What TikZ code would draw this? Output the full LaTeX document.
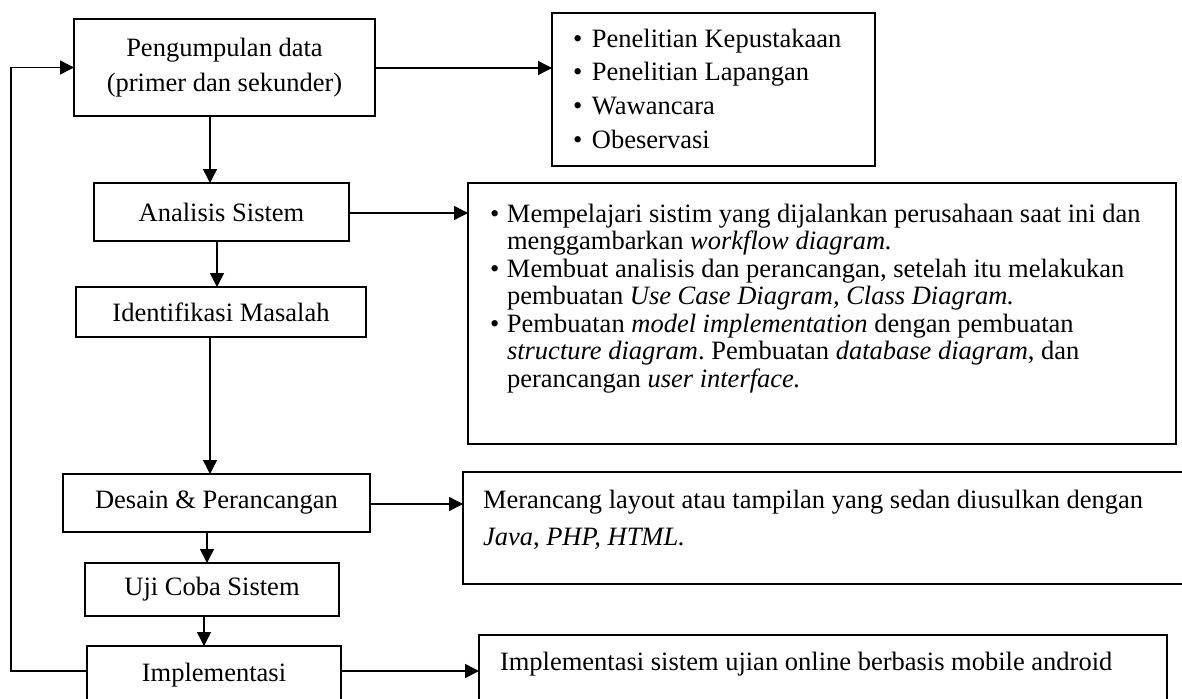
\documentclass[tikz,border=0pt]{standalone}
\usepackage{fontspec}
\setmainfont{Liberation Serif}
\usetikzlibrary{arrows.meta}
\newcommand{\blt}[1]{\makebox[#1][l]{\textbullet}}
\frenchspacing
\begin{document}
\begin{tikzpicture}[x=1pt,y=-1pt,
  every node/.style={inner sep=0pt, outer sep=0pt},
  fbox/.style={draw, line width=1.5pt, font=\fontsize{26.5}{35}\selectfont, align=center},
  tbox/.style={draw, line width=1.5pt},
  txt/.style={anchor=base west, font=\fontsize{26.5}{30}\selectfont},
  arr/.style={line width=1.5pt, -{Triangle[length=14pt,width=14pt]}},
  ln/.style={line width=1.5pt}]
\useasboundingbox (0,0) rectangle (1182,698);
\clip (0,0) rectangle (1182,698);
\fill[white] (0,0) rectangle (1182,698);

% left flow boxes
\node[fbox, minimum width=301pt, minimum height=97pt] (pd) at (224.5,67.5) {Pengumpulan data\\(primer dan sekunder)};
\node[fbox, minimum width=255pt, minimum height=58pt] (as) at (221.5,212) {Analisis Sistem};
\node[fbox, minimum width=290pt, minimum height=50pt] (im) at (221,312) {Identifikasi Masalah};
\node[fbox, minimum width=307pt, minimum height=58pt] (dp) at (216.5,503) {Desain \& Perancangan};
\node[fbox, minimum width=254pt, minimum height=53pt] (uc) at (212,589.5) {Uji Coba Sistem};
\node[fbox, minimum width=254pt, minimum height=58pt] (ip) at (214,675) {Implementasi};

% right description boxes
\node[tbox, minimum width=323pt, minimum height=153pt] (pl) at (713.5,89.5) {};
\node[tbox, minimum width=708pt, minimum height=261pt] (mb) at (822,313.5) {};
\node[tbox, minimum width=740pt, minimum height=112pt] (db) at (833,528) {};
\node[tbox, minimum width=688pt, minimum height=75pt] (ib) at (823,672.5) {};

% texts of right boxes
\node[txt] (p1) at (573,48) {\blt{19pt}Penelitian Kepustakaan};
\node[txt] (p2) at (573,81) {\blt{19pt}Penelitian Lapangan};
\node[txt] (p3) at (573,114.5) {\blt{19pt}Wawancara};
\node[txt] (p4) at (573,148.5) {\blt{19pt}Obeservasi};

\node[txt] (m1) at (490,222) {\blt{17pt}Mempelajari sistim yang dijalankan perusahaan saat ini dan};
\node[txt] (m2) at (507,249.5) {menggambarkan \textit{workflow diagram.}};
\node[txt] (m3) at (490,277) {\blt{17pt}Membuat analisis dan perancangan, setelah itu melakukan};
\node[txt] (m4) at (507,304.5) {pembuatan \textit{Use Case Diagram, Class Diagram.}};
\node[txt] (m5) at (490,332) {\blt{17pt}Pembuatan \textit{model implementation} dengan pembuatan};
\node[txt] (m6) at (507,359.5) {\textit{structure diagram}. Pembuatan \textit{database diagram}, dan};
\node[txt] (m7) at (507,387) {perancangan \textit{user interface.}};

\node[txt] (d1) at (483,508) {Merancang layout atau tampilan yang sedan diusulkan dengan};
\node[txt] (d2) at (483,545) {\textit{Java}, \textit{PHP, HTML.}};

\node[txt] (i1) at (500,670) {Implementasi sistem ujian online berbasis mobile android};

% helper coordinates
\coordinate (x1) at (210,0);
\coordinate (x2) at (217,0);
\coordinate (x3) at (210,0);
\coordinate (x4) at (207,0);
\coordinate (x5) at (204,0);
\coordinate (y1) at (0,68);
\coordinate (y2) at (0,213);
\coordinate (y3) at (0,504);
\coordinate (y4) at (0,671);
\coordinate (fb) at (11,0);

% vertical flow arrows
\draw[arr] (pd.south -| x1) -- (as.north -| x1);
\draw[arr] (as.south -| x2) -- (im.north -| x2);
\draw[arr] (im.south -| x3) -- (dp.north -| x3);
\draw[arr] (dp.south -| x4) -- (uc.north -| x4);
\draw[arr] (uc.south -| x5) -- (ip.north -| x5);

% horizontal arrows
\draw[arr] (pd.east |- y1) -- (pl.west |- y1);
\draw[arr] (as.east |- y2) -- (mb.west |- y2);
\draw[arr] (dp.east |- y3) -- (db.west |- y3);
\draw[arr] (ip.east |- y4) -- (ib.west |- y4);

% feedback loop
\draw[arr] (ip.west |- y4) -- (fb |- y4) -- (fb |- pd.west) -- (pd.west);
\end{tikzpicture}
\end{document}
